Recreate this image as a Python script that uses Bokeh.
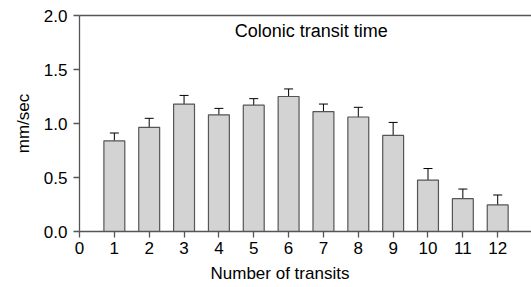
from bokeh.plotting import figure
from bokeh.models import ColumnDataSource, FixedTicker, LinearAxis, Label, Range1d, Whisker, TeeHead, CustomJSTickFormatter, Title
from bokeh.embed import file_html
from bokeh.resources import INLINE

transits = [1, 2, 3, 4, 5, 6, 7, 8, 9, 10, 11, 12]
speed = [0.84, 0.965, 1.18, 1.08, 1.17, 1.25, 1.11, 1.06, 0.89, 0.476, 0.304, 0.246]
err_upper = [0.912, 1.048, 1.26, 1.14, 1.23, 1.32, 1.18, 1.15, 1.01, 0.583, 0.393, 0.338]
y_ticks = [0.0, 0.5, 1.0, 1.5, 2.0]
x_ticks = [0, 1, 2, 3, 4, 5, 6, 7, 8, 9, 10, 11, 12]

FONT = "Liberation Sans"
AX = "#555555"

src = ColumnDataSource(dict(x=transits, top=speed, upper=err_upper))

p = figure(width=531, height=287, output_backend="svg", toolbar_location=None,
           x_range=Range1d(0, 12.97), y_range=Range1d(0, 2.0),
           min_border_left=79, min_border_right=0, min_border_top=15, min_border_bottom=55)
p.grid.visible = False
p.outline_line_color = None
p.background_fill_color = "white"

p.vbar(x="x", top="top", width=0.6, bottom=0, source=src,
       fill_color="#d3d3d3", line_color=AX, line_width=1.2)
w = Whisker(base="x", upper="upper", lower="top", source=src, line_color="black",
            line_width=1, lower_head=None,
            upper_head=TeeHead(size=9, line_color="black", line_width=1))
p.add_layout(w)

for ax in (p.xaxis[0], p.yaxis[0]):
    ax.axis_line_color = AX
    ax.axis_line_width = 1.3
    ax.major_tick_line_color = AX
    ax.major_tick_line_width = 1.3
    ax.major_tick_out = 6
    ax.major_tick_in = 0
    ax.minor_tick_line_color = None
    ax.major_label_text_font = FONT
    ax.major_label_text_font_size = "17px"
    ax.major_label_text_color = "black"
    ax.axis_label_text_font = FONT
    ax.axis_label_text_font_size = "17px"
    ax.axis_label_text_font_style = "normal"
    ax.axis_label_text_color = "black"

p.xaxis.ticker = FixedTicker(ticks=x_ticks)
p.yaxis.ticker = FixedTicker(ticks=y_ticks)
p.yaxis.formatter = CustomJSTickFormatter(code="return tick.toFixed(1);")
p.yaxis.axis_label = "mm/sec"
p.xaxis.major_label_standoff = 4
p.yaxis.major_label_standoff = 6
p.yaxis.axis_label_standoff = 8

top_axis = LinearAxis(ticker=FixedTicker(ticks=[]), axis_line_color=AX, axis_line_width=1.3,
                      major_tick_line_color=None, minor_tick_line_color=None,
                      major_label_text_font_size="0px")
p.add_layout(top_axis, "above")

p.add_layout(Label(x=6.65, y=1.86, text="Colonic transit time", text_align="center",
                   text_baseline="middle", text_font=FONT, text_font_size="18px",
                   text_color="black"))
p.add_layout(Title(text="Number of transits", align="left", offset=131, standoff=10,
                   text_font=FONT, text_font_size="17px", text_font_style="normal",
                   text_color="black"), "below")

open("out.html", "w").write(file_html(p, INLINE))
